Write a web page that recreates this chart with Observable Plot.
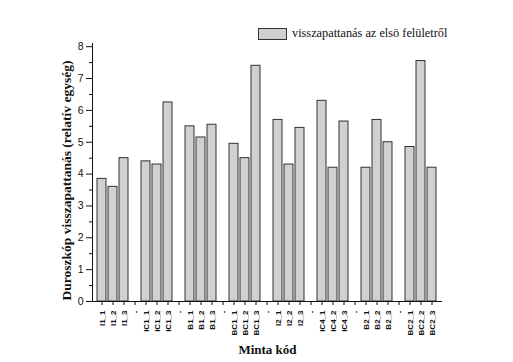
<!DOCTYPE html>
<html>
<head>
<meta charset="utf-8">
<script src="https://cdn.jsdelivr.net/npm/d3@7"></script>
<script src="https://cdn.jsdelivr.net/npm/@observablehq/plot@0.6"></script>
<style>
  html, body { margin: 0; padding: 0; background: #fff; }
  #wrap { position: relative; width: 513px; height: 362px; }
  #legend { position: absolute; left: 258px; top: 26px; display: flex; align-items: center;
    font: 12.3px "Liberation Serif", "Times New Roman", serif; color: #111; white-space: nowrap; }
  #legend .sw { width: 27px; height: 10px; background: #d0d0d0; border: 1px solid #333; margin-right: 5px; }
  svg g[aria-label="y-axis label"] text, svg g[aria-label="x-axis label"] text {
    font-family: "Liberation Serif", "Times New Roman", serif; font-weight: bold; }
  svg g[aria-label="y-axis label"] text { font-size: 13.5px; }
  svg g[aria-label="x-axis label"] text { font-size: 13px; }
</style>
</head>
<body>
<div id="wrap">
  <div id="chart"></div>
  <div id="legend"><div class="sw"></div><span>visszapattanás az elsö felületről</span></div>
</div>
<script>
const categories = [
  "I1_1","I1_2","I1_3","gap1",
  "IC1_1","IC1_2","IC1_3","gap2",
  "B1_1","B1_2","B1_3","gap3",
  "BC1_1","BC1_2","BC1_3","gap4",
  "I2_1","I2_2","I2_3","gap5",
  "IC4_1","IC4_2","IC4_3","gap6",
  "B2_1","B2_2","B2_3","gap7",
  "BC2_1","BC2_2","BC2_3"
];
const samples = [
  "I1_1","I1_2","I1_3",
  "IC1_1","IC1_2","IC1_3",
  "B1_1","B1_2","B1_3",
  "BC1_1","BC1_2","BC1_3",
  "I2_1","I2_2","I2_3",
  "IC4_1","IC4_2","IC4_3",
  "B2_1","B2_2","B2_3",
  "BC2_1","BC2_2","BC2_3"
];
const values = [
  3.85, 3.6, 4.5,
  4.4, 4.3, 6.25,
  5.5, 5.15, 5.55,
  4.95, 4.5, 7.4,
  5.7, 4.3, 5.45,
  6.3, 4.2, 5.65,
  4.2, 5.7, 5.0,
  4.85, 7.55, 4.2
];
const yTicks = [0,1,2,3,4,5,6,7,8];
const yMinorTicks = [0.5,1.5,2.5,3.5,4.5,5.5,6.5,7.5];

const data = samples.map((s, i) => ({sample: s, value: values[i]}));

const chart = Plot.plot({
  width: 513,
  height: 362,
  marginLeft: 92,
  marginRight: 71,
  marginTop: 43,
  marginBottom: 61,
  style: {fontFamily: "Liberation Sans, Arial, sans-serif", color: "#111", background: "#fff"},
  x: {domain: categories, paddingInner: 0.18, paddingOuter: 0.1},
  y: {domain: [0, 8.1]},
  marks: [
    Plot.barY(data, {x: "sample", y: "value", fill: "#d0d0d0", stroke: "#333", strokeWidth: 1}),
    Plot.axisY({ticks: yMinorTicks, tickSize: 3, tickFormat: () => "", label: null}),
    Plot.axisY({ticks: yTicks, tickSize: 6, tickPadding: 3, fontSize: 10.5,
      label: "Duroszkóp visszapattanás (relatív egység)", labelAnchor: "center", labelArrow: "none", labelOffset: 31}),
    Plot.axisX({tickSize: 4, tickPadding: 5, tickRotate: -90, fontSize: 8, fontWeight: "bold",
      tickFormat: d => d.startsWith("gap") ? "-" : d,
      label: "Minta kód", labelAnchor: "center", labelArrow: "none", labelOffset: 52}),
    Plot.frame({anchor: "left", stroke: "#111"}),
    Plot.ruleY([0], {stroke: "#111"})
  ]
});
d3.select(chart).select('g[aria-label="y-axis label"] text').attr("dx", -8);
document.getElementById("chart").appendChild(chart);
</script>
</body>
</html>
